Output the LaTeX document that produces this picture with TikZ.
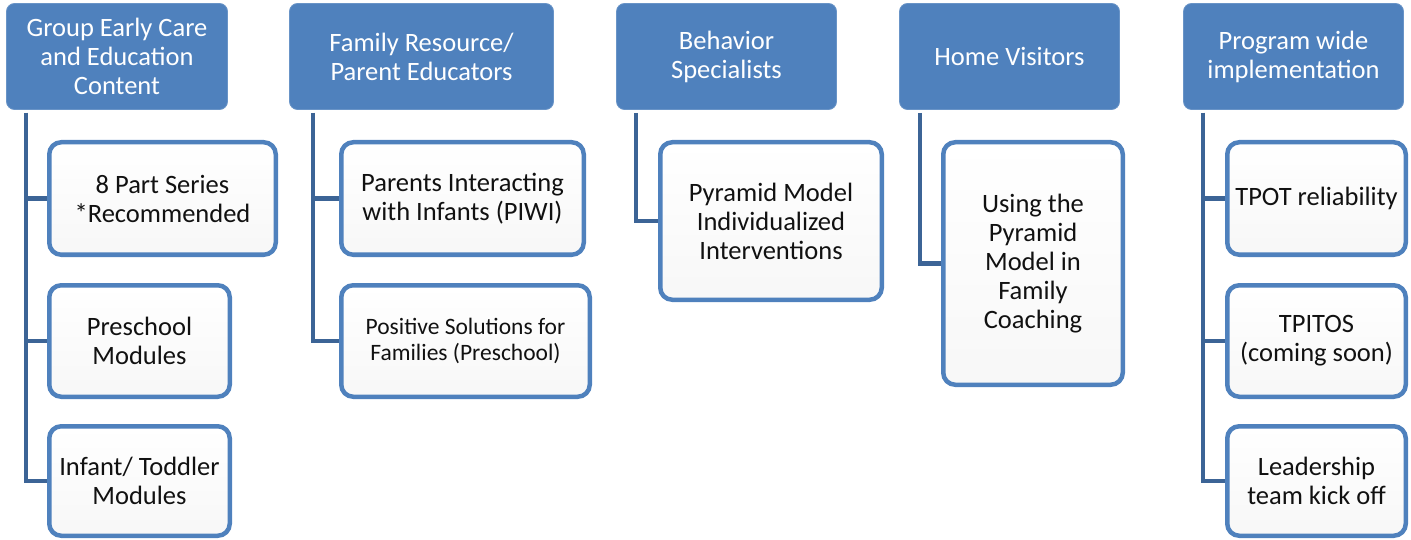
\documentclass[tikz,border=0pt]{standalone}
\usepackage{fontspec}
\setmainfont{Carlito}
\definecolor{hblue}{HTML}{4F81BD}
\definecolor{cblue}{HTML}{4F81BD}
\definecolor{lblue}{HTML}{3C6496}
\definecolor{txt}{HTML}{111111}
\tikzset{
  hdr/.style={rectangle, rounded corners=8pt, fill=hblue, draw=hblue!85!white, line width=0.8pt,
    text=white, align=center, inner sep=0pt, font=\fontsize{26.5}{29}\selectfont},
  kid/.style={rectangle, rounded corners=12pt, draw=cblue, line width=4.5pt,
    top color=white, bottom color=black!3, text=txt, align=center, inner sep=0pt,
    font=\fontsize{26.5}{29}\selectfont},
  conn/.style={draw=lblue, line width=4.5pt},
}
\begin{document}
\begin{tikzpicture}[x=1pt,y=-1pt]
\useasboundingbox (0,0) rectangle (1411,540);
% headers
\node[hdr, minimum width=221pt, minimum height=106pt] (hG) at (117,56.5) {Group Early Care\\and Education\\Content};
\node[hdr, minimum width=264pt, minimum height=106pt] (hF) at (421.5,56.5) {Family Resource/\\Parent Educators};
\node[hdr, minimum width=220pt, minimum height=106pt] (hB) at (726.5,56.5) {Behavior\\Specialists};
\node[hdr, minimum width=220pt, minimum height=106pt] (hH) at (1009.5,56.5) {Home Visitors};
\node[hdr, minimum width=220pt, minimum height=106pt] (hP) at (1293.5,56.5) {Program wide\\implementation};
% children
\node[kid, minimum width=226.5pt, minimum height=112.5pt] (g1) at (162.5,198.5) {8 Part Series\\*Recommended};
\node[kid, minimum width=180.5pt, minimum height=111.5pt] (g2) at (139.5,341) {Preschool\\Modules};
\node[kid, minimum width=180.5pt, minimum height=109.5pt] (g3) at (139.5,481) {Infant/ Toddler\\Modules};
\node[kid, minimum width=242.5pt, minimum height=112.5pt] (f1) at (462.5,198.5) {Parents Interacting\\with Infants (PIWI)};
\node[kid, minimum width=248.5pt, minimum height=111.5pt, font=\fontsize{23.5}{26}\selectfont] (f2) at (465.5,341) {Positive Solutions for\\Families (Preschool)};
\node[kid, minimum width=221.5pt, minimum height=157.5pt] (b1) at (771,221) {Pyramid Model\\Individualized\\Interventions};
\node[kid, minimum width=179.5pt, minimum height=242.5pt] (v1) at (1033,263.5) {Using the\\Pyramid\\Model in\\Family\\Coaching};
\node[kid, minimum width=178.5pt, minimum height=112.5pt] (p1) at (1316.5,198.5) {TPOT reliability};
\node[kid, minimum width=178.5pt, minimum height=111.5pt] (p2) at (1316.5,341) {TPITOS\\(coming soon)};
\node[kid, minimum width=178.5pt, minimum height=109.5pt] (p3) at (1316.5,481) {Leadership\\team kick off};
% trunk tops
\coordinate (tG) at (26,113);
\coordinate (tF) at (313,113);
\coordinate (tB) at (636,113);
\coordinate (tH) at (920,113);
\coordinate (tP) at (1203,113);
% connectors
\draw[conn] (tG) |- (g1.west);
\draw[conn] (tG) |- (g2.west);
\draw[conn] (tG) |- (g3.west);
\draw[conn] (tF) |- (f1.west);
\draw[conn] (tF) |- (f2.west);
\draw[conn] (tB) |- (b1.west);
\draw[conn] (tH) |- (v1.west);
\draw[conn] (tP) |- (p1.west);
\draw[conn] (tP) |- (p2.west);
\draw[conn] (tP) |- (p3.west);
\end{tikzpicture}
\end{document}
